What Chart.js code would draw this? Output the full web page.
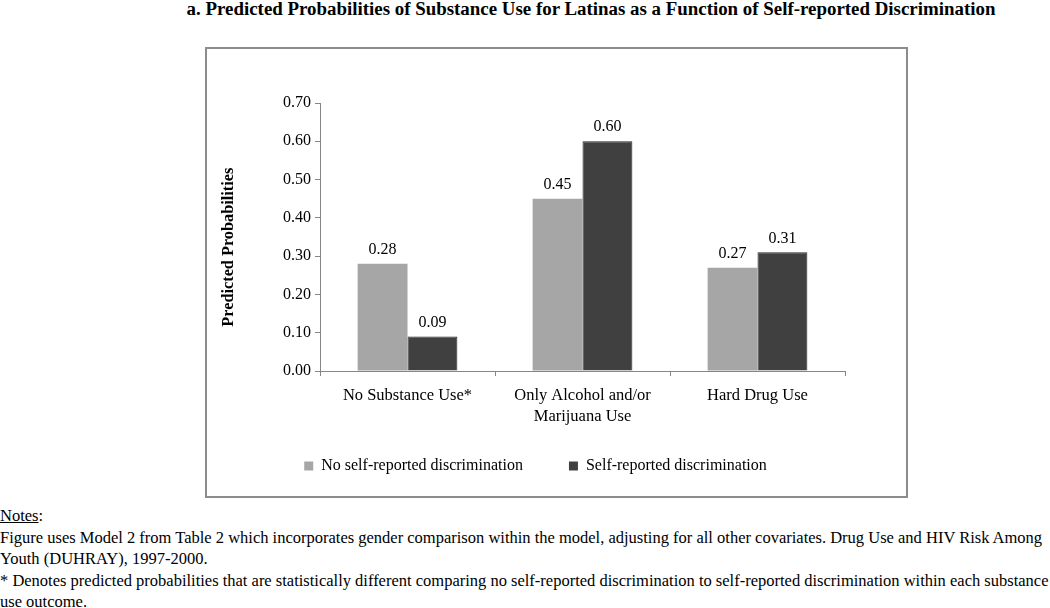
<!DOCTYPE html>
<html>
<head>
<meta charset="utf-8">
<script src="https://cdn.jsdelivr.net/npm/chart.js@4.4.1/dist/chart.umd.min.js"></script>
<style>
  body { margin: 0; background: #fff; width: 1050px; height: 608px; overflow: hidden; position: relative; font-family: "Liberation Serif", "Times New Roman", serif; color: #000; }
  #title { position: absolute; left: 0; width: 1182px; top: -1px; text-align: center; font-weight: bold; font-size: 18.9px; line-height: 19px; white-space: nowrap; }
  #box { position: absolute; left: 205px; top: 47px; width: 699px; height: 447px; border: 2px solid #8c8c8c; }
  #notes { position: absolute; left: 0; top: 505px; font-size: 16.5px; line-height: 21.6px; white-space: nowrap; }
  #notes u { text-decoration: underline; }
</style>
</head>
<body>
<div id="title">a. Predicted Probabilities of Substance Use for Latinas as a Function of Self-reported Discrimination</div>
<div id="box"><canvas id="bar" width="699" height="447"></canvas></div>
<div id="notes">
<u>Notes</u>:<br>
Figure uses Model 2 from Table 2 which incorporates gender comparison within the model, adjusting for all other covariates. Drug Use and HIV Risk Among<br>
Youth (DUHRAY), 1997-2000.<br>
* Denotes predicted probabilities that are statistically different comparing no self-reported discrimination to self-reported discrimination within each substance<br>
use outcome.
</div>
<script>
var categories = [["No Substance Use*"], ["Only Alcohol and/or", "Marijuana Use"], ["Hard Drug Use"]];
var noDiscrimination = [0.28, 0.45, 0.27];
var discrimination = [0.09, 0.60, 0.31];
var yTicks = [0, 0.1, 0.2, 0.3, 0.4, 0.5, 0.6, 0.7];

var serif = "'Liberation Serif', 'Times New Roman', serif";

// value labels above each bar
var barLabels = {
  id: "barLabels",
  afterDatasetsDraw: function (chart) {
    var ctx = chart.ctx;
    ctx.save();
    ctx.font = "16px " + serif;
    ctx.fillStyle = "#000";
    ctx.textAlign = "center";
    ctx.textBaseline = "bottom";
    chart.data.datasets.forEach(function (ds, i) {
      chart.getDatasetMeta(i).data.forEach(function (bar, j) {
        ctx.fillText(ds.data[j].toFixed(2), bar.x, bar.y - 6);
      });
    });
    ctx.restore();
  }
};

var ctx = document.querySelector("#bar").getContext("2d");
new Chart(ctx, {
  type: "bar",
  data: {
    labels: categories,
    datasets: [
      {
        label: "No self-reported discrimination",
        data: noDiscrimination,
        backgroundColor: "#a6a6a6",
        borderColor: "#a6a6a6",
        borderWidth: 0
      },
      {
        label: "Self-reported discrimination",
        data: discrimination,
        backgroundColor: "#404040",
        borderColor: "#262626",
        borderWidth: 1
      }
    ]
  },
  options: {
    responsive: false,
    animation: false,
    layout: { padding: { left: 19, right: 61, top: 54, bottom: 12 } },
    datasets: { bar: { categoryPercentage: 0.57, barPercentage: 1 } },
    plugins: {
      tooltip: { enabled: false },
      legend: {
        position: "bottom",
        labels: {
          boxWidth: 9,
          boxHeight: 9,
          padding: 10,
          color: "#000",
          font: { family: serif, size: 16 },
          generateLabels: function (chart) {
            return chart.data.datasets.map(function (ds, i) {
              return {
                text: ds.label + (i === 0 ? "         " : ""),
                fillStyle: ds.backgroundColor,
                strokeStyle: ds.backgroundColor,
                lineWidth: 0,
                datasetIndex: i
              };
            });
          }
        }
      }
    },
    scales: {
      x: {
        afterFit: function (scale) { scale.height = 77; },
        grid: { display: true, drawOnChartArea: false, offset: true, tickLength: 5, color: "#868686" },
        border: { color: "#868686", width: 1 },
        ticks: { color: "#000", padding: 9, font: { family: serif, size: 16.5, lineHeight: 1.28 }, maxRotation: 0 }
      },
      y: {
        min: 0,
        max: 0.7,
        afterFit: function (scale) { scale.width = 94; },
        afterBuildTicks: function (scale) { scale.ticks = yTicks.map(function (v) { return { value: v }; }); },
        grid: { display: true, drawOnChartArea: false, tickLength: 5, color: "#868686" },
        border: { color: "#868686", width: 1 },
        ticks: {
          color: "#000",
          padding: 4,
          font: { family: serif, size: 16 },
          callback: function (v) { return v.toFixed(2); }
        },
        title: {
          display: true,
          // trailing spaces nudge the rotated title down to where the original sits
          text: "Predicted Probabilities     ",
          color: "#000",
          font: { family: serif, size: 16.3, weight: "bold" },
          padding: { top: -7, bottom: 0 }
        }
      }
    }
  },
  plugins: [barLabels]
});
</script>
</body>
</html>
